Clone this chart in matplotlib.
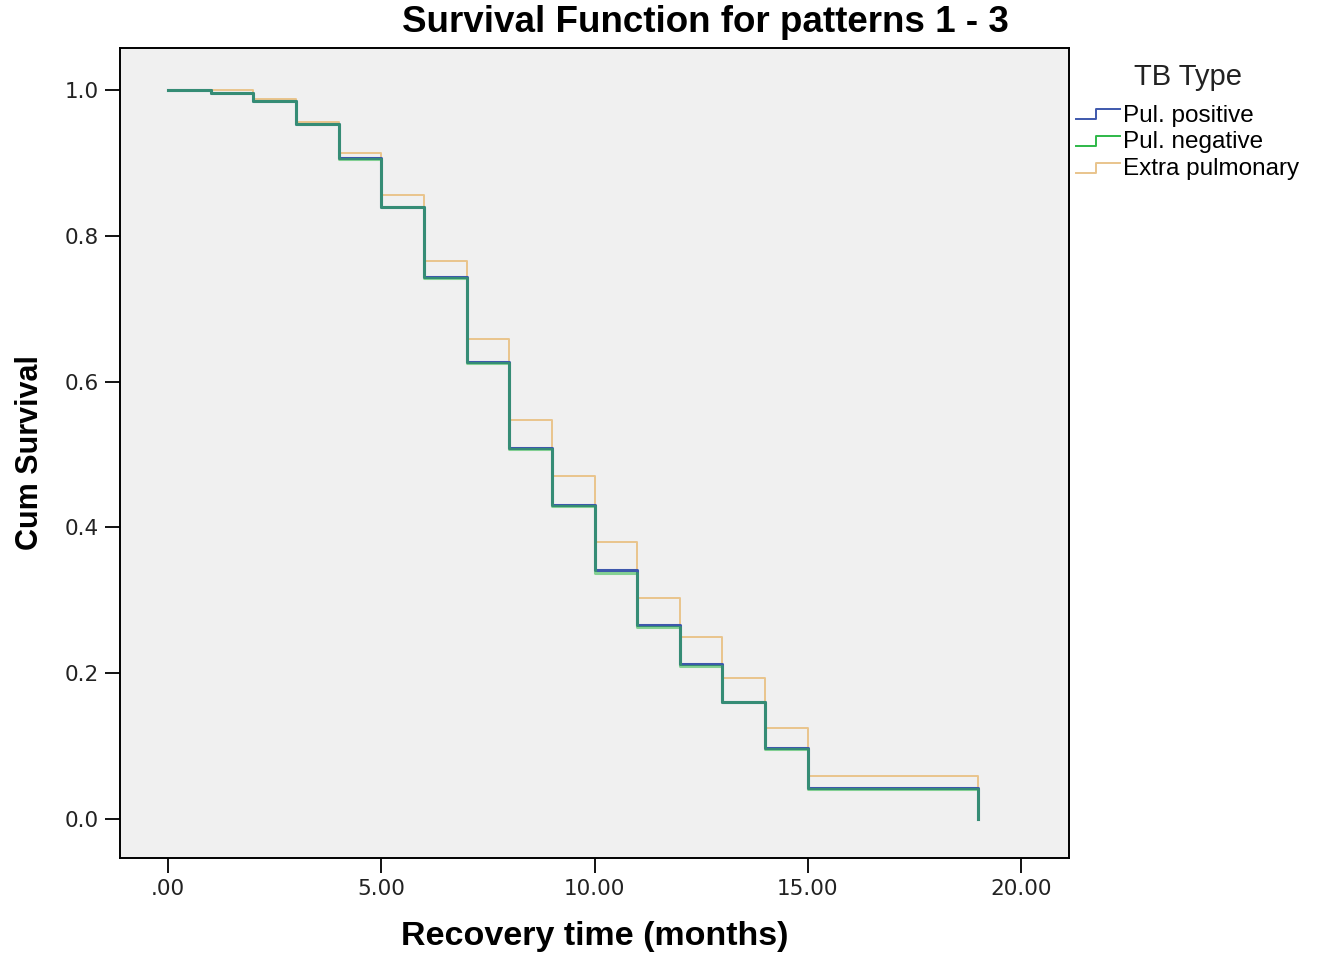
import numpy as np
import matplotlib.pyplot as plt
from matplotlib.legend_handler import HandlerLine2D
from matplotlib.lines import Line2D

plt.rcParams['font.family'] = ['Liberation Sans', 'DejaVu Sans']

# Kaplan-Meier step values
times = [0, 1, 2, 3, 4, 5, 6, 7, 8, 9, 10, 11, 12, 13, 14, 15, 19]
pul_positive = [1.0, 0.996, 0.985, 0.953, 0.907, 0.840, 0.743, 0.627, 0.509,
                0.431, 0.341, 0.266, 0.212, 0.161, 0.097, 0.042, 0.0]
pul_negative = [1.0, 0.996, 0.985, 0.953, 0.906, 0.839, 0.742, 0.626, 0.508,
                0.430, 0.337, 0.264, 0.210, 0.160, 0.096, 0.041, 0.0]
extra_pulmonary = [1.0, 1.0, 0.988, 0.956, 0.913, 0.856, 0.765, 0.658, 0.547,
                   0.470, 0.380, 0.303, 0.250, 0.193, 0.125, 0.059, 0.0]

labels = ['Pul. positive', 'Pul. negative', 'Extra pulmonary']
colors = ['#3e58ac', '#2eb848', '#e9c48c']
widths = [2.2, 2.2, 1.4]
alphas = [1.0, 0.55, 1.0]
zorders = [2, 3, 1]
xticks = [0, 5, 10, 15, 20]
xticklabels = ['.00', '5.00', '10.00', '15.00', '20.00']
yticks = [0.0, 0.2, 0.4, 0.6, 0.8, 1.0]


class StepHandler(HandlerLine2D):
    # draws a little step in the legend, like SPSS does
    def create_artists(self, legend, orig_handle, xdescent, ydescent,
                       width, height, fontsize, trans):
        x0, x1 = -xdescent, -xdescent + width
        xm = x0 + width * 0.45
        y0 = -ydescent + height * 0.15
        y1 = -ydescent + height * 0.75
        line = Line2D([x0, xm, xm, x1], [y0, y0, y1, y1],
                      color=orig_handle.get_color(), lw=1.4)
        line.set_transform(trans)
        return [line]


fig = plt.figure(figsize=(13.26, 9.55), dpi=100)
ax = fig.add_axes([0.0905, 0.1016, 0.7157, 0.8481])
ax.set_facecolor('#f0f0f0')

series = [pul_positive, pul_negative, extra_pulmonary]
handles = []
for vals, lab, c, w, a, z in zip(series, labels, colors, widths, alphas, zorders):
    h, = ax.plot(times, vals, drawstyle='steps-post', color=c, lw=w,
                 alpha=a, zorder=z, label=lab)
    handles.append(h)

ax.set_xlim(-1.125, 21.125)
ax.set_ylim(-0.0535, 1.0576)
ax.set_xticks(xticks)
ax.set_xticklabels(xticklabels)
ax.set_yticks(yticks)
ax.set_yticklabels(['%.1f' % v for v in yticks])
ax.tick_params(direction='out', length=11, width=1.3, labelsize=15.5, pad=4,
               labelcolor='#222222')
for lbl in ax.get_xticklabels() + ax.get_yticklabels():
    lbl.set_family('DejaVu Sans')
for s in ax.spines.values():
    s.set_linewidth(1.4)

ax.set_xlabel('Recovery time (months)', fontsize=24.5, fontweight='bold', labelpad=16)
ax.set_ylabel('Cum Survival', fontsize=22, fontweight='bold', labelpad=14)
fig.text(0.532, 0.976, 'Survival Function for patterns 1 - 3', fontsize=26.5,
         fontweight='bold', ha='center', va='center')

# legend handles use full-colour lines
leg_handles = [Line2D([], [], color=c) for c in colors]
leg = ax.legend(handles=leg_handles, labels=labels, title='TB Type',
                loc='upper left', bbox_to_anchor=(0.992, 1.0), frameon=False,
                fontsize=17.5, title_fontsize=21, handlelength=1.8,
                handletextpad=0.15, labelspacing=0.2, borderaxespad=0.2,
                handler_map={Line2D: StepHandler()})
leg.get_title().set_color('#222222')
# more room between legend title and entries
leg._legend_box.sep = 10

fig.savefig('out.png', dpi=100)
